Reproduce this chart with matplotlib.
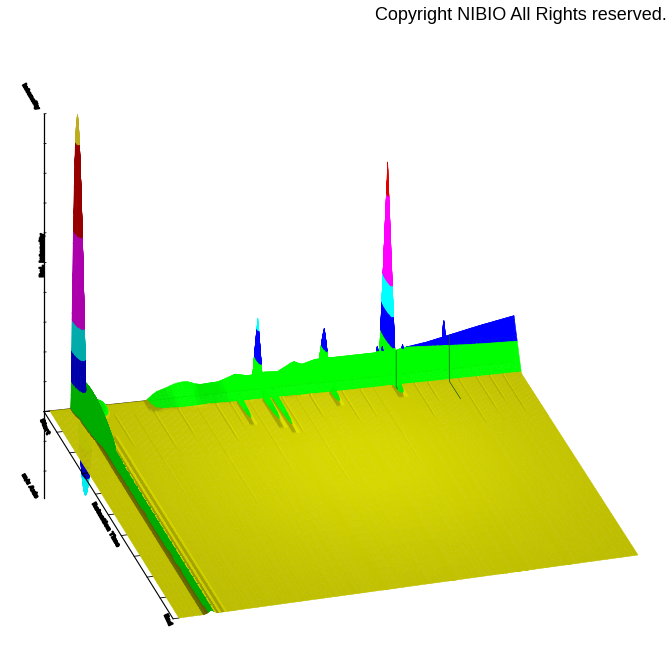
import numpy as np
import matplotlib
matplotlib.use('Agg')
import matplotlib.pyplot as plt
import matplotlib.patheffects as pe
from mpl_toolkits.mplot3d.art3d import Poly3DCollection

# ---- data (u along the long floor axis, v along the short one, z height)
levels = [1.5, 28, 59, 90, 180, 270]
band_rgb = [(255, 255, 0), (0, 255, 0), (0, 0, 255), (0, 255, 255),
            (255, 0, 255), (225, 0, 0), (285, 255, 45)]

wall_u = [0.0, 0.195, 0.215, 0.235, 0.258, 0.279, 0.306, 0.348, 0.383, 0.41, 0.446, 0.473,
          0.508, 0.525, 0.556, 0.598, 0.733, 0.74, 0.80, 0.86, 0.92, 1.0]
wall_z = [0.0, 0.0, 8, 11, 15, 16, 11, 12, 18, 15, 17, 16,
          25, 21, 25, 25, 25.5, 27, 31, 37, 43, 50]

spike_u = [0.053, 0.728, 0.434, 0.584, 0.84, 0.068, 0.095, 0.69, 0.701, 0.746]
spike_v = [0.99, 1.05, 1.01, 1.034, 1.0, 0.96, 0.985, 0.995, 0.995, 0.995]
spike_h = [299, 215, 71, 49, 52, 27, 7, 33, 32, 32]
spike_ru = [0.011, 0.006, 0.005, 0.005, 0.004, 0.022, 0.018, 0.003, 0.003, 0.003]
spike_rv = [0.055, 0.062, 0.04, 0.045, 0.02, 0.2, 0.05, 0.012, 0.012, 0.012]
spike_power = [1.6, 1.0, 1.1, 1.2, 1.6, 2.0, 2.0, 2.0, 2.0, 2.0]

ridge_v = [0.0, 0.3, 0.6, 0.8, 0.9, 0.97]
ridge_h = [3.5, 4.5, 5.5, 8.0, 14.0, 28.0]
ridge_u = 0.066

side_u = [0.062, 0.082, 0.094]
side_h = [1.4, 0.3, 0.22]
side_w = [0.012, 0.006, 0.006]
side_v0 = [0.0, 0.0, 0.0]
side_v1 = [1.0, 0.9, 0.85]

patch_u = [0.38, 0.435, 0.454, 0.579, 0.72]
patch_v0 = [0.83, 0.80, 0.77, 0.875, 0.885]
patch_v1 = [0.95, 0.95, 0.95, 0.923, 0.95]
patch_h = [6.0, 6.0, 7.0, 4.0, 7.0]
patch_w = [0.008, 0.009, 0.008, 0.009, 0.011]

streak_u = [0.12, 0.16, 0.20, 0.25, 0.29, 0.33, 0.36, 0.40, 0.47, 0.50, 0.53, 0.60,
            0.64, 0.67, 0.76, 0.79, 0.86, 0.90, 0.93, 0.96]
streak_v0 = [0.78, 0.5, 0.75, 0.8, 0.45, 0.76, 0.82, 0.6, 0.76, 0.5, 0.82, 0.78,
             0.8, 0.55, 0.76, 0.84, 0.7, 0.76, 0.8, 0.74]
streak_h = [0.07, 0.025, 0.06, 0.07, 0.025, 0.07, 0.07, 0.03, 0.08, 0.025, 0.08, 0.07,
            0.07, 0.025, 0.08, 0.09, 0.06, 0.08, 0.08, 0.08]

crack_u_top = [0.733, 0.852]
crack_u_foot = [0.7165, 0.8355]
crack_v_end = [0.93, 0.85]
under_spike = dict(u=0.06, v=0.955, h=-79.0, ru=0.012, rv=0.035)

z_ticks = np.arange(-60, 301, 30)
v_ticks = np.arange(0, 1.01, 0.1)
axis_labels = ["Intensity", "Rel. Intensity", "Start", "m/z Axis", "Retention Time", "End"]
copyright_text = "Copyright NIBIO All Rights reserved."

# ---- view: floor corners -> pixels (near-left, near-right, far-right, far-left)
C = np.array([[179, 618], [638, 555], [514, 362], [50, 411]], float)
W = H = 672
dx1, dx2, sx = C[1, 0]-C[2, 0], C[3, 0]-C[2, 0], C[0, 0]-C[1, 0]+C[2, 0]-C[3, 0]
dy1, dy2, sy = C[1, 1]-C[2, 1], C[3, 1]-C[2, 1], C[0, 1]-C[1, 1]+C[2, 1]-C[3, 1]
den = dx1*dy2-dx2*dy1
g = (sx*dy2-dx2*sy)/den
h = (dx1*sy-sx*dy1)/den
a, b, c = C[1, 0]-C[0, 0]+g*C[1, 0], C[3, 0]-C[0, 0]+h*C[3, 0], C[0, 0]
d, e, f = C[1, 1]-C[0, 1]+g*C[1, 1], C[3, 1]-C[0, 1]+h*C[3, 1], C[0, 1]
M = np.array([[a, b, 0, c],
              [H*g-d, H*h-e, 1, H-f],
              [0, 1, 0, 0],
              [g, h, 0, 1]], float)

fig = plt.figure(figsize=(6.72, 6.72), dpi=100, facecolor='white')
ax = fig.add_axes([0, 0, 1, 1], projection='3d', computed_zorder=False)
ax.set_axis_off()
ax.set_proj_type('ortho')
ax.get_proj = lambda: M
ax.viewLim.intervalx = (0, W)
ax.viewLim.intervaly = (0, H)

# ---- mesh
u_parts = [np.linspace(0, 1, 111)]
for uu, ru in zip(spike_u, spike_ru):
    u_parts.append(uu+np.linspace(-1.05, 1.05, 23)*ru)
u_parts.append(ridge_u+np.linspace(-0.014, 0.014, 29))
for uu, ww in zip(side_u, side_w):
    u_parts.append(uu+np.linspace(-1, 1, 5)*ww)
for uu, ww in zip(patch_u, patch_w):
    u_parts.append(uu+np.linspace(-1, 1, 7)*ww)
for uu in streak_u:
    u_parts.append(uu+np.array([-0.003, 0, 0.003]))
u_grid = np.unique(np.clip(np.concatenate(u_parts), 0, 1).round(5))
v_grid = np.unique(np.concatenate([np.linspace(0, 1, 31), np.arange(0.72, 1.12, 0.004),
                                   np.array(spike_v), [0.94, 1.0]]).round(5))
U, V = np.meshgrid(u_grid, v_grid)

wall_start = 0.94
Z = np.interp(U, wall_u, wall_z)*np.clip((V-wall_start)/(1-wall_start), 0, 1)*(V <= 1.0)
for uu, vv, hh, ru, rv, pw in zip(spike_u, spike_v, spike_h, spike_ru, spike_rv, spike_power):
    rr = np.hypot((U-uu)/ru, (V-vv)/rv)
    Z = np.maximum(Z, hh*np.clip(1-rr**pw, 0, None))
Z = np.maximum(Z, np.interp(V, ridge_v, ridge_h)*np.clip(1-np.abs(U-ridge_u)/0.012, 0, None)*(V <= 1.0))
for uu, hh, ww, v0, v1 in zip(side_u, side_h, side_w, side_v0, side_v1):
    Z = np.maximum(Z, hh*np.clip(1-np.abs(U-uu)/ww, 0, None)*((V >= v0) & (V <= v1)))
for uu, v0, v1, hh, ww in zip(patch_u, patch_v0, patch_v1, patch_h, patch_w):
    Z = np.maximum(Z, hh*np.clip((V-v0)/(v1-v0), 0, 1)*np.clip(1-np.abs(U-uu)/ww, 0, None)*(V <= v1+0.03))
for uu, v0, hh in zip(streak_u, streak_v0, streak_h):
    Z = Z+hh*np.clip(1-np.abs(U-uu)/0.003, 0, None)*np.clip((V-v0)/0.05, 0, 1)*(V < 0.95)


def clip_z(poly, lo, hi):
    for bound, sign in ((lo, 1), (hi, -1)):
        if len(poly) == 0:
            return poly
        out = []
        n = len(poly)
        for i in range(n):
            p, q = poly[i], poly[(i+1) % n]
            dp, dq = sign*(p[2]-bound), sign*(q[2]-bound)
            if dp >= 0:
                out.append(p)
            if (dp >= 0) != (dq >= 0):
                out.append(p+(q-p)*dp/(dp-dq))
        poly = out
    return poly


def build(U, V, Z, shade, colors, use_abs=False, keep=None):
    polys, cols = [], []
    ZL = np.abs(Z) if use_abs else Z
    edges = np.array([-1e9]+levels+[1e9])
    for j in range(U.shape[0]-1):
        for i in range(U.shape[1]-1):
            if keep is not None and not keep(j, i):
                continue
            zz = (ZL[j, i], ZL[j, i+1], ZL[j+1, i+1], ZL[j+1, i])
            b0 = int(np.searchsorted(levels, min(zz)))
            b1 = int(np.searchsorted(levels, max(zz)))
            quad = [np.array([U[j, i], V[j, i], ZL[j, i]]), np.array([U[j, i+1], V[j, i+1], ZL[j, i+1]]),
                    np.array([U[j+1, i+1], V[j+1, i+1], ZL[j+1, i+1]]), np.array([U[j+1, i], V[j+1, i], ZL[j+1, i]])]
            for bnd in range(b0, b1+1):
                poly = quad if b0 == b1 else clip_z(quad, edges[bnd], edges[bnd+1])
                if len(poly) < 3:
                    continue
                pts = np.array(poly)
                if use_abs:
                    pts[:, 2] = -pts[:, 2]
                s = shade(j, i, bnd)
                cols.append(tuple(min(1.0, ch/255*s) for ch in colors[bnd]))
                polys.append(pts)
    return polys, cols


du = np.diff(U, axis=1)[:-1, :]
dv = np.diff(V, axis=0)[:, :-1]
zc = 0.25*(Z[:-1, :-1]+Z[:-1, 1:]+Z[1:, :-1]+Z[1:, 1:])
gu = 0.5*((Z[:-1, 1:]-Z[:-1, :-1])+(Z[1:, 1:]-Z[1:, :-1]))/du/470
gv = 0.5*((Z[1:, :-1]-Z[:-1, :-1])+(Z[1:, 1:]-Z[:-1, 1:]))/dv/240
uc = 0.25*(U[:-1, :-1]+U[:-1, 1:]+U[1:, :-1]+U[1:, 1:])
vc = 0.25*(V[:-1, :-1]+V[:-1, 1:]+V[1:, :-1]+V[1:, 1:])
slope = np.hypot(gu, gv)
flat = 0.735+0.11*np.exp(-((uc-0.55)**2/0.16+(vc-0.6)**2/0.22))
k = np.clip((slope-0.5)/0.5, 0, 1)
target = np.where(uc < 0.085, 0.67, 1.0)
base = flat*(1-k)+target*k
relief = np.where(uc < 0.15, np.clip(gu*1.8, -0.08, 0.5), np.clip(gu*1.8, -0.08, 0.2))
green_flat = np.clip(flat+0.15, 0, 1)


def shade_main(j, i, bnd):
    if bnd == 0:
        return flat[j, i]*(1-relief[j, i])
    if uc[j, i] < 0.085:
        return 0.67
    if bnd == 1:
        return max(base[j, i], green_flat[j, i])
    return base[j, i]


def keep_main(j, i):
    return vc[j, i] <= 1.0 or (uc[j, i] > 0.3 and zc[j, i] > 0)


polys, cols = build(U, V, Z, shade_main, band_rgb, keep=keep_main)
coll = Poly3DCollection(polys, facecolors=cols, edgecolors=cols, linewidths=0.35, zorder=3)
ax.add_collection3d(coll, autolim=False)

# inverted spike hidden by the plate except below its edge
su = under_spike['u']+np.linspace(-1.05, 1.05, 23)*under_spike['ru']
sv = under_spike['v']+np.linspace(-1.05, 1.05, 23)*under_spike['rv']
SU, SV = np.meshgrid(su, sv)
SZ = under_spike['h']*np.clip(1-((SU-under_spike['u'])/under_spike['ru'])**2-((SV-under_spike['v'])/under_spike['rv'])**2, 0, None)
under_rgb = [(0, 255, 0), (0, 200, 0), (0, 0, 190), (0, 235, 240), (255, 0, 255), (255, 0, 0), (255, 235, 40)]
p2, c2 = build(SU, SV, SZ, lambda j, i, bnd: 1.0, under_rgb, use_abs=True)
ax.add_collection3d(Poly3DCollection(p2, facecolors=c2, edgecolors=c2, linewidths=0.35, zorder=1), autolim=False)

# axes frame
axis_u = -0.012
ax.plot([axis_u, axis_u], [1, 1], [z_ticks[0]-27, 300], color='black', lw=0.9, zorder=2)
ax.plot([axis_u, axis_u], [1, 0], [0, 0], color='black', lw=0.8, zorder=2)
ax.plot([axis_u, 1], [1, 1], [0, 0], color='black', lw=0.8, zorder=2)
for zt in z_ticks:
    ax.plot([axis_u, axis_u+0.004], [1, 1], [zt, zt], color='black', lw=0.6, zorder=2)
for vt in v_ticks:
    ax.plot([axis_u, axis_u+0.012], [vt, vt], [0, 0], color='black', lw=0.6, zorder=2)

# thin dark creases across the back wall
for ut, uf, ve in zip(crack_u_top, crack_u_foot, crack_v_end):
    ztop = float(np.interp(ut, wall_u, wall_z))
    ax.plot([ut, uf, uf], [1, 0.94, ve], [ztop, 0, 0], color=(0.1, 0.35, 0.05), lw=0.5, zorder=4)

label_pos = [(31, 97, -60), (42, 255, 90), (45, 427, -66), (30, 486, -60), (106, 525, -60), (168, 620, -65)]
for txt, (px, py, rot) in zip(axis_labels, label_pos):
    t = fig.text(px/W, 1-py/H, txt, fontsize=4.2, fontweight='bold', rotation=rot, color='black',
                 ha='center', va='center', family='DejaVu Sans', rotation_mode='anchor')
    t.set_path_effects([pe.withStroke(linewidth=1.0, foreground='black')])

fig.text(375/W, 1-16/H, copyright_text, fontsize=13.0, family='Liberation Sans', color='black',
         ha='left', va='center')

fig.savefig('out.png', dpi=100, facecolor='white')
